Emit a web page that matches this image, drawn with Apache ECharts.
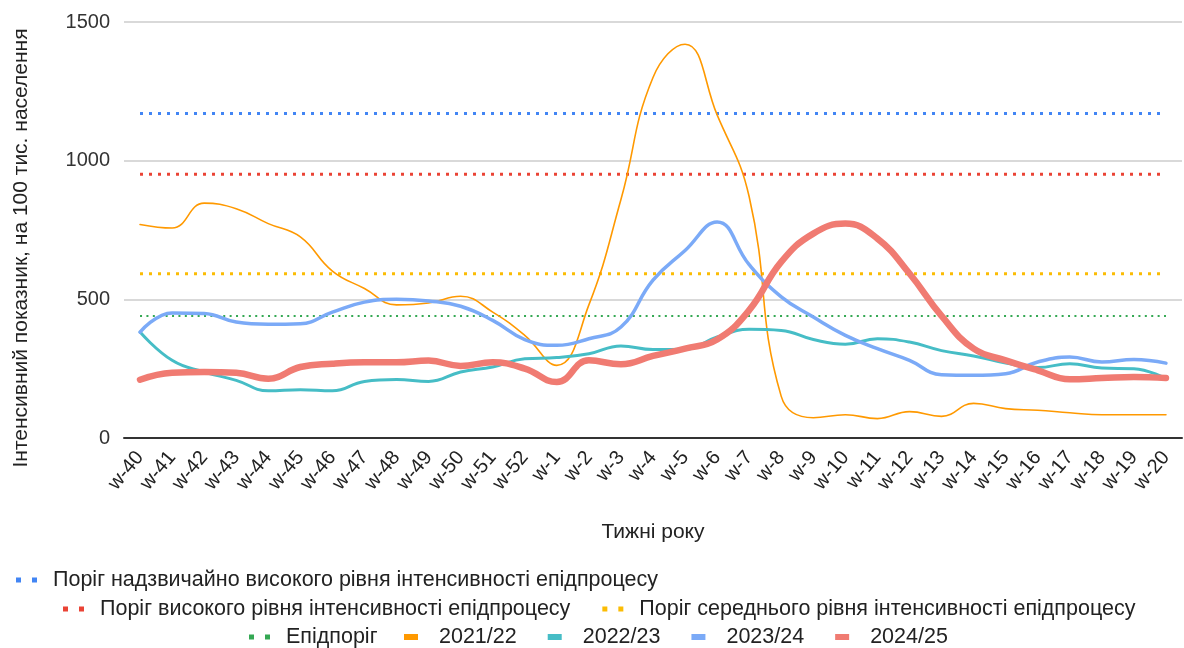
<!DOCTYPE html>
<html>
<head>
<meta charset="utf-8">
<script src="https://cdn.jsdelivr.net/npm/echarts@6/dist/echarts.min.js"></script>
<style>
html,body{margin:0;padding:0;background:#fff;}
#chart{width:1184px;height:648px;}
</style>
</head>
<body>
<div id="chart"></div>
<script>
const weeks = ['w-40','w-41','w-42','w-43','w-44','w-45','w-46','w-47','w-48','w-49','w-50','w-51','w-52',
  'w-1','w-2','w-3','w-4','w-5','w-6','w-7','w-8','w-9','w-10','w-11','w-12','w-13','w-14','w-15','w-16','w-17','w-18','w-19','w-20'];
const yTicks = [0, 500, 1000, 1500];

const thrVeryHigh = [1170,1170,1170,1170,1170,1170,1170,1170,1170,1170,1170,1170,1170,1170,1170,1170,1170,1170,1170,1170,1170,1170,1170,1170,1170,1170,1170,1170,1170,1170,1170,1170,1170];
const thrHigh = [951,951,951,951,951,951,951,951,951,951,951,951,951,951,951,951,951,951,951,951,951,951,951,951,951,951,951,951,951,951,951,951,951];
const thrMedium = [592,592,592,592,592,592,592,592,592,592,592,592,592,592,592,592,592,592,592,592,592,592,592,592,592,592,592,592,592,592,592,592,592];
const thrEpi = [440,440,440,440,440,440,440,440,440,440,440,440,440,440,440,440,440,440,440,440,440,440,440,440,440,440,440,440,440,440,440,440,440];

const s2122 = [770,757,847,827,773,725,602,539,480,487,511,454,370,262,480,860,1300,1420,1165,870,150,73,84,70,95,78,125,106,100,91,84,84,84];
const s2223 = [382,280,238,208,170,174,170,204,211,204,238,256,286,290,304,332,319,320,364,392,388,355,338,358,346,315,296,270,254,268,252,250,214];
const s2324 = [382,451,449,418,410,412,454,490,500,494,475,424,355,334,358,400,569,676,779,625,509,436,370,322,280,228,226,232,274,292,274,283,270];
const s2425 = [210,235,238,235,214,256,268,273,273,279,260,273,250,202,280,266,296,322,355,461,635,737,773,719,593,440,322,280,244,212,216,220,216];

const names = {
  vh: 'Поріг надзвичайно високого рівня інтенсивності епідпроцесу',
  h: 'Поріг високого рівня інтенсивності епідпроцесу',
  m: 'Поріг середнього рівня інтенсивності епідпроцесу',
  e: 'Епідпоріг'
};

const dotIcon = 'path://M0,0h5v5h-5z M16,0h5v5h-5z';
const FONT = 'Liberation Sans, Arial, sans-serif';

function dotted(name, data, color, width, dash) {
  return {
    name, type: 'line', data, showSymbol: false, symbol: 'none', silent: true,
    lineStyle: { color, width, type: dash, cap: 'butt' },
    itemStyle: { color }
  };
}
function curve(name, data, color, width) {
  return {
    name, type: 'line', data, showSymbol: false, symbol: 'none', smooth: 0.45, silent: true,
    lineStyle: { color, width, cap: 'round', join: 'round' },
    itemStyle: { color }
  };
}

const legendText = { fontFamily: FONT, fontSize: 21.5, color: '#222', padding: [0, 0, 0, 11] };
const legendTextRect = { fontFamily: FONT, fontSize: 21.5, color: '#222', padding: [0, 0, 0, 16] };

const option = {
  animation: false,
  backgroundColor: '#fff',
  grid: { left: 124, right: 2, top: 22, bottom: 210 },
  legend: [
    { left: 11, top: 564, itemWidth: 21, itemHeight: 5, icon: dotIcon, textStyle: legendText,
      data: [names.vh] },
    { left: 58, top: 593, itemWidth: 21, itemHeight: 5, icon: dotIcon, textStyle: legendText, itemGap: 32,
      data: [names.h, names.m] },
    { left: 244, top: 621, itemWidth: 21, itemHeight: 5, icon: dotIcon, textStyle: legendText,
      data: [names.e] },
    { left: 399, top: 621, itemWidth: 14, itemHeight: 6, icon: 'rect', textStyle: legendTextRect, itemGap: 31,
      data: ['2021/22', '2022/23', '2023/24', '2024/25'] }
  ],
  xAxis: {
    type: 'category', data: weeks, boundaryGap: true,
    name: 'Тижні року', nameLocation: 'middle', nameGap: 84,
    nameTextStyle: { fontFamily: FONT, fontSize: 21, color: '#222' },
    axisLine: { lineStyle: { color: '#333', width: 2 } },
    axisTick: { show: false },
    axisLabel: { rotate: 50, fontFamily: FONT, fontSize: 20, color: '#222', interval: 0, margin: 16 }
  },
  yAxis: {
    type: 'value', min: yTicks[0], max: yTicks[yTicks.length - 1], interval: 500,
    name: 'Інтенсивний показник, на 100 тис. населення', nameLocation: 'middle', nameGap: 92,
    nameTextStyle: { fontFamily: FONT, fontSize: 21, color: '#222', padding: [0, 36, 0, 0] },
    axisLine: { show: false }, axisTick: { show: false },
    axisLabel: { fontFamily: FONT, fontSize: 20, color: '#333', margin: 14, formatter: v => String(v) },
    splitLine: { lineStyle: { color: '#cccccc', width: 1.5 } }
  },
  series: [
    dotted(names.vh, thrVeryHigh, '#4285F4', 3, [3, 6]),
    dotted(names.h, thrHigh, '#EA4335', 3, [3, 6]),
    dotted(names.m, thrMedium, '#FBBC04', 3, [3, 6]),
    dotted(names.e, thrEpi, '#34A853', 2, [2, 4.4]),
    curve('2021/22', s2122, '#FF9900', 1.6),
    curve('2022/23', s2223, '#46BDC6', 3),
    curve('2023/24', s2324, '#7BAAF7', 3.5),
    curve('2024/25', s2425, '#F07B72', 6.5)
  ]
};

const chart = echarts.init(document.getElementById('chart'), null, { renderer: 'canvas' });
chart.setOption(option);
</script>
</body>
</html>
